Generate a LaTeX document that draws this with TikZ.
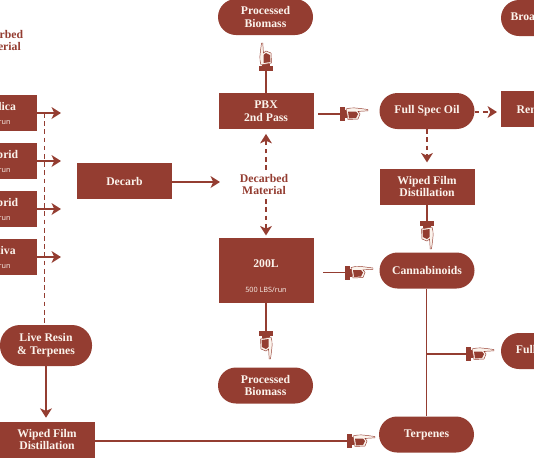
\documentclass[tikz,border=0pt]{standalone}
\usepackage{fontspec}
\setmainfont{Liberation Serif}
\setsansfont{Open Sans}
\usepackage{xcolor}
\usetikzlibrary{arrows.meta, positioning, calc}
\definecolor{rust}{HTML}{943D31}
\definecolor{cream}{HTML}{FBF3EC}

\tikzset{
  boxnode/.style={fill=rust, text=cream, font=\fontsize{10}{11}\selectfont\bfseries, align=center, inner sep=0pt, minimum width=2.85cm, minimum height=1.08cm},
  pillnode/.style={boxnode, rounded corners=0.54cm},
  link/.style={rust, line width=1.6pt},
  dashlink/.style={link, dash pattern=on 4pt off 3pt},
  tipped/.style={-{Stealth[inset=2.2pt, length=8pt, width=10pt]}},
  lbl/.style={text=rust, font=\fontsize{10}{11}\selectfont\bfseries, align=center},
  pics/hand/.style={code={
    \fill[rust] (0,-7) rectangle (5,7);
    \fill[rust] (5,-4) rectangle (7,4);
    \filldraw[draw=rust, fill=cream, line width=0.4pt] (6,-5) .. controls (12,-7) and (16,-6) .. (28,-4.5) -- (28,-3.2) -- (18,-2.6) -- (20,0) -- (18,5) -- (8,5.5) -- cycle;
    \fill[rust] (8,-2.5) -- (16,-2.5) -- (18,0) -- (16,4) -- (9,4.5) -- cycle;
  }},
}
\newcommand{\subline}[1]{\\[1pt]{\fontsize{6.2}{6.5}\selectfont\sffamily\mdseries #1\hspace*{5pt}}}

\begin{document}
\begin{tikzpicture}[x=0.03cm, y=-0.03cm]
\useasboundingbox (0,0) rectangle (534,462);
\clip (0,0) rectangle (534,462);

% top row
\node[pillnode] (biomassa) at (265.5,17) {Processed\\Biomass};
\node[pillnode] (broad) at (548.5,18) {Broad Spec Oil};
\node[lbl] (decarbeda) at (-1,40.5) {Decarbed\\Material};

% strains
\node[boxnode, minimum width=2.22cm] (indica) at (0,113) {Indica\subline{LBS/run}};
\node[boxnode, minimum width=2.22cm] (hybrida) at (0,161) {Hybrid\subline{LBS/run}};
\node[boxnode, minimum width=2.22cm] (hybridb) at (0,209) {Hybrid\subline{LBS/run}};
\node[boxnode, minimum width=2.22cm] (sativa) at (0,257) {Sativa\subline{LBS/run}};
\node[pillnode, minimum width=2.76cm, minimum height=1.23cm, rounded corners=0.6cm] (resin) at (46,345.5) {Live Resin\\\& Terpenes};
\node[boxnode] (wipeda) at (47,439.5) {Wiped Film\\Distillation};

% middle
\node[boxnode] (decarb) at (124.5,181) {Decarb};
\node[boxnode] (pbx) at (266,111) {PBX\\2nd Pass};
\node[lbl] (decarbedb) at (264,184.5) {Decarbed\\Material};
\node[boxnode, minimum height=1.95cm] (reactor) at (266,270.5) {};
\node[fill=none, text=cream, font=\fontsize{10}{11}\selectfont\bfseries, inner sep=0pt] (reactorname) at (266,264) {200L};
\node[text=cream, font=\fontsize{6.2}{6.5}\selectfont\sffamily, inner sep=0pt] (reactorrun) at (266,290) {500 LBS/run};
\node[pillnode] (biomassb) at (265.5,385.5) {Processed\\Biomass};

% right
\node[pillnode] (fullspec) at (427,111) {Full Spec Oil};
\node[boxnode] (remed) at (548.5,109) {Remediation};
\node[boxnode] (wipedb) at (427,186.5) {Wiped Film\\Distillation};
\node[pillnode] (canna) at (427,270.5) {Cannabinoids};
\node[pillnode] (terp) at (426.5,434.5) {Terpenes};
\node[pillnode] (fullb) at (548.5,351) {Full Spec Oil};

% arrow ends
\coordinate (tipa) at (61,113);
\coordinate (tipb) at (61,161);
\coordinate (tipc) at (61,209);
\coordinate (tipd) at (61,257);
\coordinate (tipe) at (220,182);
\coordinate (tipf) at (497,112);
\coordinate (dashtop) at (44.5,113);
\coordinate (dashend) at (44.5,325);
\coordinate (handa) at (266,71);
\coordinate (handb) at (340,114);
\coordinate (handc) at (345,272.5);
\coordinate (handd) at (266,331);
\coordinate (hande) at (427,221);
\coordinate (handf) at (347,441);
\coordinate (handg) at (466,354);
\coordinate (branch) at (427,354);

\draw[link, tipped] (indica.east) -- (tipa);
\draw[link, tipped] (hybrida.east) -- (tipb);
\draw[link, tipped] (hybridb.east) -- (tipc);
\draw[link, tipped] (sativa.east) -- (tipd);
\draw[dashlink] (dashtop) -- (dashend);
\draw[link, tipped, shorten >=3pt] (resin.south) -- (wipeda.north -| resin);
\draw[link, tipped] (decarb.east |- tipe) -- (tipe);
\draw[dashlink, tipped, shorten >=4pt] (decarbedb.north -| pbx) -- (pbx.south);
\draw[dashlink, tipped, shorten >=2pt] (decarbedb.south -| reactor) -- (reactor.north);
\draw[dashlink, tipped] (fullspec.east |- tipf) -- (tipf);
\draw[dashlink, tipped, shorten >=5pt] (fullspec.south) -- (wipedb.north);

% hands
\draw[link] (pbx.north) -- (handa);
\pic[rotate=90] at (handa) {hand};
\draw[link, shorten <=4pt] (pbx.east |- handb) -- (handb);
\pic at (handb) {hand};
\draw[link, shorten <=8pt] (reactor.east |- handc) -- (handc);
\pic at (handc) {hand};
\draw[link] (reactor.south) -- (handd);
\pic[rotate=-90] at (handd) {hand};
\draw[link] (wipedb.south) -- (hande);
\pic[rotate=-90] at (hande) {hand};
\draw[link] (wipeda.east |- handf) -- (handf);
\pic at (handf) {hand};
\draw[link] (canna.south -| terp) -- (terp.north);
\draw[link] (branch) -- (handg);
\pic at (handg) {hand};
\end{tikzpicture}
\end{document}
